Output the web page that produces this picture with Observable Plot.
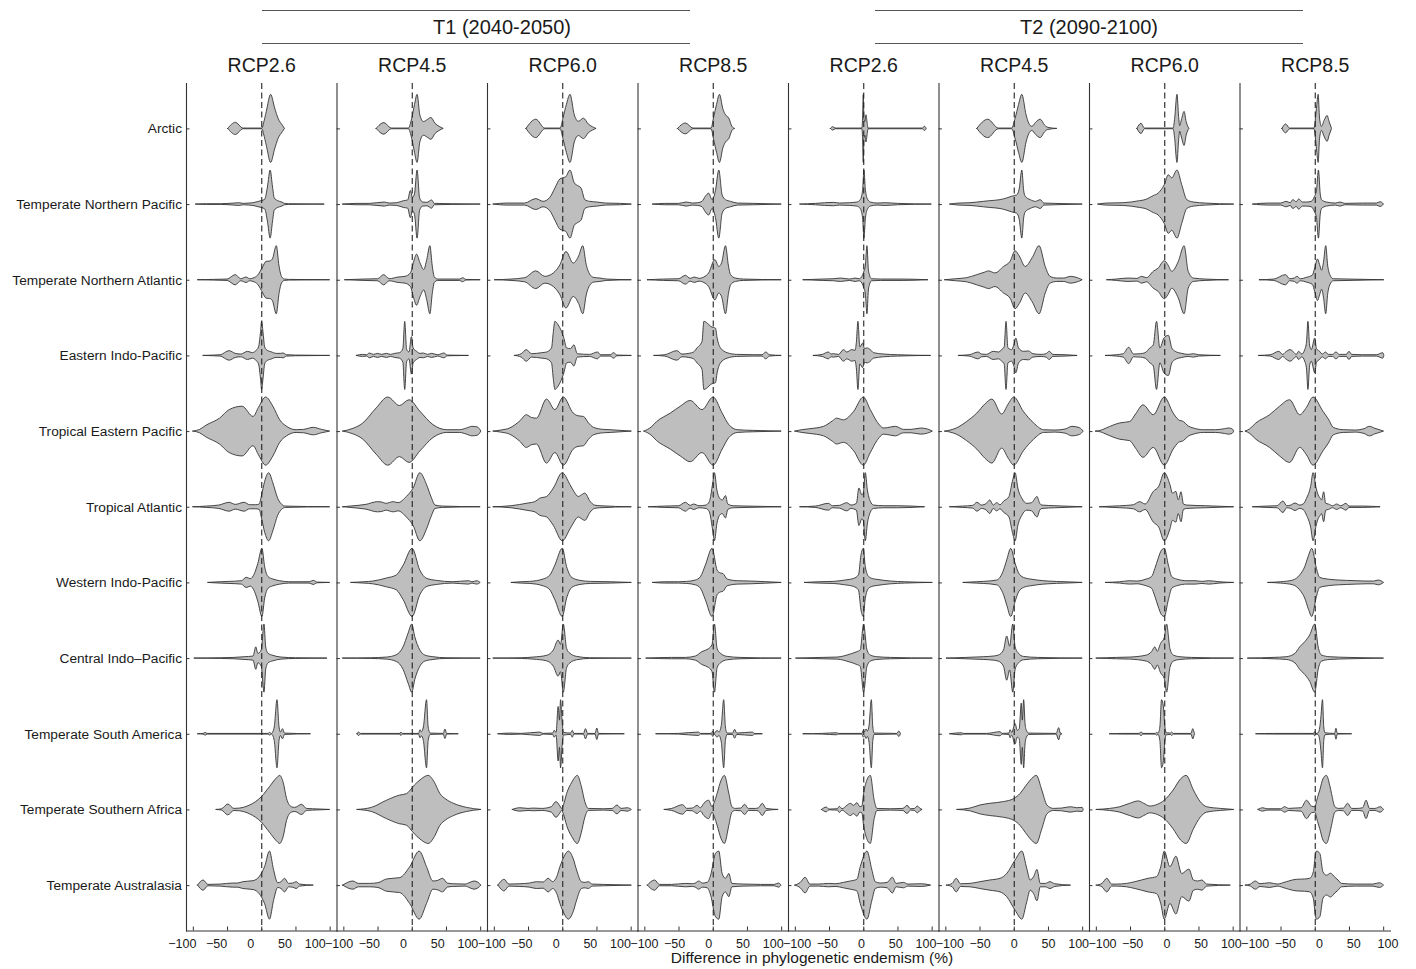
<!DOCTYPE html>
<html><head><meta charset="utf-8">
<script src="https://cdn.jsdelivr.net/npm/d3@7"></script>
<script src="https://cdn.jsdelivr.net/npm/@observablehq/plot@0.6"></script>
<style>
body{margin:0;background:#fff;font-family:"Liberation Sans",Arial,sans-serif;color:#1a1a1a}
#hdr{position:relative;height:45px;width:1416px}
.grp{position:absolute;top:10px;height:32px;border-top:1px solid #555;border-bottom:1px solid #555;line-height:32px;font-size:20px}
.grp span{position:absolute;top:0;transform:translateX(-50%);white-space:nowrap}
#xlab{position:relative;margin-top:-3px;left:512px;width:600px;text-align:center;font-size:15.5px;line-height:16px}
</style></head>
<body>
<div id="hdr"></div>
<div id="chart"></div>
<div id="xlab"></div>
<script>
const regions = ["Arctic","Temperate Northern Pacific","Temperate Northern Atlantic","Eastern Indo-Pacific","Tropical Eastern Pacific","Tropical Atlantic","Western Indo-Pacific","Central Indo\u2013Pacific","Temperate South America","Temperate Southern Africa","Temperate Australasia"];
const periods = ["T1 (2040-2050)","T2 (2090-2100)"];
const scenarios = ["RCP2.6","RCP4.5","RCP6.0","RCP8.5"];
const xTicks = [-100,-50,0,50,100];
const xTitle = "Difference in phylogenetic endemism (%)";

// violin outlines per panel: [value %, relative half-width (0-100)] for each region
const t1_rcp26 = [
 [[-49,0],[-37.7,18],[-27,1],[1,1],[3.4,16],[7.4,50],[13.7,100],[19.6,60],[24.5,30],[31,9],[34,0]],
 [[-96,0],[-80,1],[-60,1],[-40,3],[-33,4],[-26,2],[-18,3],[-12,4],[-6,7],[0,10],[5,14],[9,50],[13,100],[16.5,50],[19,18],[24,10],[30,6],[34,2],[40,1],[92,0]],
 [[-93,0],[-70,1],[-50,2],[-38,15],[-30,3],[-22,8],[-17,3],[-12,5],[-5,14],[2,38],[7,54],[12,55],[16,60],[22,100],[26,40],[30,8],[34,2],[40,1],[100,0]],
 [[-85,0],[-70,1],[-60,2],[-47,14],[-38,6],[-30,4],[-20,12],[-13,8],[-8,14],[-4,25],[-1,70],[0.5,100],[2.5,70],[5,25],[8,16],[14,11],[22,6],[28,6],[32,7],[37,2],[50,1],[100,0]],
 [[-100,0],[-90,5],[-81,17],[-61,38],[-47,63],[-28,73],[-12,43],[-4,70],[6.4,100],[17,73],[27,33],[37,14],[51,4],[62,5],[76,11],[88,5],[100,0]],
 [[-100,0],[-80,2],[-62,5],[-47,13],[-38,7],[-25,13],[-17,6],[-8,6],[-3,8],[0,30],[5,75],[10.8,100],[17,70],[24,25],[30,7],[35,2],[100,0]],
 [[-78,0],[-60,2],[-47,3],[-29,5],[-22,15],[-16,11],[-10,26],[-5,56],[1,100],[5,46],[10,17],[17,10],[27,5],[40,2],[70,2],[76,6],[82,1],[100,0]],
 [[-98,0],[-60,1],[-40,2],[-25,4],[-12,6],[-8,33],[-5,14],[0,24],[4,100],[6.5,33],[10,14],[17,8],[29,3],[50,1],[96,0]],
 [[-93,0],[-85,1],[-82,4],[-79,1],[10,1],[12,4],[15,1],[19,20],[23,100],[26,20],[28,5],[31,15],[34,2],[72,0]],
 [[-66,0],[-58,2],[-49,16],[-40,3],[-32,4],[-17,13],[0,37],[12,67],[22,92],[27,100],[32,80],[37,32],[44,8],[49,6],[59,15],[66,3],[75,2],[100,0]],
 [[-93,0],[-85,15],[-78,2],[-60,3],[-42,6],[-35,6],[-27,10],[-12,13],[-3,25],[5,55],[12,100],[18,45],[24,7],[29,10],[34,20],[40,5],[46,6],[51,10],[56,3],[76,0]]
];
const t1_rcp45 = [
 [[-52,0],[-40.7,17],[-30,1],[-5,1],[0,30],[4,70],[7.8,100],[11.8,40],[17,20],[22,25],[28,32],[34,15],[40,6],[46,0]],
 [[-101,0],[-80,2],[-62,2],[-40,6],[-33,3],[-22,4],[-12,10],[-6,12],[-2,40],[1,20],[4,30],[7.8,100],[11.5,18],[16,6],[22,5],[29,12],[33,2],[60,1],[100,0]],
 [[-98,0],[-70,2],[-50,3],[-41,15],[-33,3],[-20,8],[-10,10],[-2,20],[3,55],[7,75],[12,50],[17.6,30],[22,60],[26.5,100],[30,40],[33,8],[38,2],[70,2],[74.5,6],[79,1],[100,0]],
 [[-81,0],[-72,3],[-66,2],[-62,7],[-56,3],[-50,6],[-44,3],[-37,6],[-31,3],[-25,6],[-18,8],[-13,20],[-10.3,100],[-7.5,18],[-4,10],[-0.5,55],[2,22],[7,12],[12,6],[17,7],[23,3],[29,6],[38,2],[47,7],[52,1],[83,0]],
 [[-101,0],[-86,8],[-72,23],[-52,68],[-35,100],[-18,75],[-4,92],[12,58],[31,19],[51,4],[70,4],[80,9],[88,14],[96,12],[101,0]],
 [[-101,0],[-90,2],[-67,7],[-50,15],[-44,14],[-38,10],[-27,15],[-20,12],[-8,30],[2,55],[11.8,100],[21.6,65],[29,25],[34,5],[45,2],[100,0]],
 [[-89,0],[-70,2],[-57,4],[-37,13],[-22.5,22],[-12.7,50],[0.5,100],[11.8,36],[21.6,12],[36,6],[60,2],[83,5],[88,2],[95,5],[100,0]],
 [[-101,0],[-60,1],[-37,3],[-22.5,10],[-12.7,33],[-5.4,73],[0,100],[4.4,63],[11.8,24],[19,9],[31,4],[50,1],[100,0]],
 [[-80,0],[-78,5],[-75,1],[-17,1],[-16,5],[-14,1],[10,1],[12,12],[14,6],[17,20],[21.6,100],[24,20],[27,2],[46,1],[48.5,14],[51,1],[68,0]],
 [[-80,0],[-59,6],[-37,27],[-18,42],[-8,46],[4,72],[14,90],[24,100],[33,80],[41,47],[50,30],[61,18],[80,6],[101,0]],
 [[-101,0],[-86,12],[-78,5],[-62,5],[-49.5,7],[-37,18],[-17.6,22],[-3,54],[10.8,100],[21.6,54],[31,12],[38,14],[45,20],[52,6],[60,4],[78,3],[85,8],[91,12],[97,8],[101,0]]
];
const t1_rcp60 = [
 [[-53,0],[-38.7,27],[-25.5,1],[-3,1],[1,30],[6,70],[11.3,100],[17.6,40],[23.5,21],[31,30],[38,13],[44,5],[49.5,0]],
 [[-101,0],[-82,3],[-55,3],[-38.7,16],[-28,8],[-18,20],[-10.8,47],[-3.4,74],[0.5,77],[5,80],[11.3,100],[17.6,62],[22,55],[27.5,47],[33,13],[40,8],[50.5,6],[63,3],[85,2],[101,0]],
 [[-99,0],[-75,2],[-55,6],[-38.7,26],[-25.5,10],[-13,20],[-3.4,44],[5.4,83],[16,49],[24,70],[30,100],[35,45],[38,25],[45.6,7],[55,5],[65,2],[101,0]],
 [[-70,0],[-60,5],[-52.5,17],[-45,5],[-30,8],[-23,10],[-15.7,22],[-13,70],[-10.8,100],[-6,90],[-1,70],[2.5,50],[6.4,22],[12,20],[17,31],[22,5],[40,3],[51.5,10],[56,2],[70,2],[75,8],[80,1],[101,0]],
 [[-101,0],[-90,3],[-77,9],[-62,30],[-52.5,48],[-45,40],[-37.7,38],[-23,94],[-10.8,63],[1.5,100],[16,53],[23,45],[31,43],[38,25],[45.6,11],[60,5],[70,4],[101,0]],
 [[-101,0],[-75,3],[-50,11],[-40,15],[-33,25],[-23,30],[-13,55],[0,100],[11.3,65],[17,45],[23.5,30],[28,35],[33,40],[40.7,16],[47,5],[55,3],[101,0]],
 [[-74.5,0],[-60,2],[-47.5,3],[-28,10],[-18,22],[-10.8,51],[0,100],[6.4,46],[13.7,15],[26,6],[41,3],[70,2],[101,0]],
 [[-101,0],[-60,1],[-42.6,3],[-23,8],[-13,24],[-6,53],[-2.5,40],[1.5,100],[6.4,28],[11.3,14],[21,5],[40,1],[101,0]],
 [[-94,0],[-77,2],[-60,1],[-33,5],[-28,1],[-14,2],[-11.8,10],[-9,4],[-6,80],[-4,40],[-2.5,100],[0,30],[2,4],[12,2],[14.7,10],[17,1],[31,1],[34,15],[37,1],[48,1],[50.5,17],[53,1],[90.7,0]],
 [[-73,0],[-62,5],[-50,3],[-42.6,4],[-30,3],[-16,8],[-9.3,23],[-4,12],[-1,3],[2,15],[6.4,47],[14,80],[22,100],[28,67],[33,23],[38,3],[60,2],[73,3],[80,13],[86,3],[95,5],[101,0]],
 [[-94,0],[-85,17],[-78,3],[-62,4],[-48,6],[-37.7,10],[-28,9],[-20.6,20],[-14,10],[-8,25],[-3.4,54],[3,85],[8.8,100],[16,78],[21,44],[28,10],[33,8],[38,10],[44,3],[60,2],[101,0]]
];
const t1_rcp85 = [
 [[-51.5,0],[-40,16],[-29,1],[-2.5,1],[1.5,35],[5.5,70],[9.8,100],[14.7,58],[18.6,40],[23.5,30],[28,6],[32,0]],
 [[-88,0],[-70,2],[-50,2],[-38.7,6],[-30,3],[-22,4],[-15.7,8],[-10.8,23],[-6,32],[-1,13],[4,40],[8.8,100],[13.7,27],[18.6,13],[26,8],[36,3],[60,2],[100,0]],
 [[-95.6,0],[-72,2],[-50,3],[-40,13],[-33,4],[-27,8],[-20,4],[-13,8],[-6,20],[3,59],[8.8,39],[13,50],[18.6,100],[23,40],[26,15],[33,5],[45,2],[100,0]],
 [[-86,0],[-70,2],[-52.5,14],[-45,4],[-35,6],[-28,10],[-23,22],[-15.7,41],[-13,100],[-8,95],[-3,85],[1,82],[4,80],[6.4,51],[11.3,22],[21,8],[35,3],[60,2],[72,2],[77.5,10],[83,2],[100,0]],
 [[-100.5,0],[-90,12],[-82,28],[-62,53],[-47.5,73],[-33,90],[-15.7,63],[0.5,100],[13.7,53],[23.5,19],[36,4],[60,2],[100,0]],
 [[-94,0],[-70,2],[-50,3],[-40,13],[-33,4],[-28,8],[-20,3],[-10,5],[-5,15],[0,70],[2.5,100],[6,50],[10,25],[14,20],[18.6,33],[22,8],[30,3],[50,2],[100,0]],
 [[-88,0],[-70,2],[-50,2],[-38,3],[-25.5,7],[-18,17],[-10.8,51],[-1,100],[6.4,36],[11,28],[15,26],[21,10],[36,5],[55,4],[100,0]],
 [[-97.5,0],[-60,2],[-40,2],[-25.5,6],[-15.7,19],[-10.8,23],[-6,28],[-1,40],[2.5,100],[6.4,28],[11.3,14],[21,5],[40,2],[100,0]],
 [[-83,0],[-50,1],[-20.6,5],[-18,1],[-2,1],[0,8],[2,1],[6.4,10],[9,5],[12.5,25],[16,100],[18.5,20],[21,2],[29,2],[32,13],[35,2],[58,5],[61,1],[72.5,0]],
 [[-71,0],[-60,3],[-44,14],[-38,3],[-30,4],[-23,12],[-18,5],[-13,18],[-6,27],[-1,8],[2,20],[6.4,47],[12,85],[17,100],[23.5,47],[28,8],[33,3],[41,4],[46.6,15],[52,3],[62,3],[67,5],[72.5,18],[78,3],[95.6,0]],
 [[-95.6,0],[-85,15],[-78,2],[-60,2],[-40,5],[-30,4],[-25.5,6],[-20.6,12],[-15,6],[-8,8],[-3,30],[4,93],[8.8,100],[13.7,34],[18.6,20],[23.5,34],[28,5],[45.6,3],[70,2],[90,2],[96,6],[100,0]]
];
const t2_rcp26 = [
 [[-48,0],[-44.6,5],[-41,1],[-2,1],[-1,30],[0,100],[1,30],[2.5,20],[4,40],[5.5,20],[7,1],[86,1],[89.7,6],[92,0]],
 [[-92.6,0],[-70,2],[-43.6,5],[-35,3],[-20,4],[-9.3,6],[-4.4,13],[-1,40],[1,100],[3,45],[5.4,18],[10.3,6],[20,3],[32,4],[50,2],[99.5,0]],
 [[-88,0],[-60,2],[-43.6,3],[-33,5],[-20,2],[-12,5],[-6,3],[-2,10],[1,25],[3,40],[5.4,100],[7.5,30],[9,15],[12,3],[25,2],[57,2],[94.6,0]],
 [[-73,0],[-60,3],[-51,10],[-47,4],[-43.6,5],[-36,3],[-29,17],[-24,10],[-16.7,17],[-12,15],[-10,40],[-7.8,100],[-5,25],[-1,36],[2,20],[5.4,22],[10.3,17],[15,8],[30,4],[50,2],[98.5,0]],
 [[-100,0],[-90,4],[-78,7],[-58,14],[-45,30],[-39,38],[-29,33],[-14,58],[0,100],[10.3,63],[20,28],[30,9],[40,12],[47,14],[59,5],[70,5],[84,9],[94,6],[101,0]],
 [[-92.6,0],[-70,2],[-51,10],[-45,3],[-35,4],[-24,12],[-18,5],[-10,10],[-6.4,55],[-2,35],[0,40],[3,100],[6,50],[10.3,16],[15,5],[30,3],[50,3],[89.7,0]],
 [[-86,0],[-65,2],[-44,3],[-27,7],[-14,12],[-7,22],[-3.4,80],[0,100],[3,46],[8,17],[14,11],[20,9],[40,4],[60,2],[101,0]],
 [[-98.5,0],[-60,2],[-38.7,3],[-19,12],[-9.3,19],[-4.4,24],[0.5,100],[5.4,24],[10.3,9],[20,4],[40,2],[101,0]],
 [[-88,0],[-60,1],[-38.7,3],[-36,1],[-2,1],[0,10],[2,6],[4,14],[6,8],[8.5,25],[11.8,100],[14,20],[16,2],[49,1],[52,8],[54.4,0]],
 [[-61,0],[-54,7],[-50,1],[-38,2],[-35,9],[-31,2],[-24,12],[-19,18],[-14,12],[-9.3,20],[-5,8],[-2,10],[0.5,47],[5,85],[10.3,100],[16,27],[20,3],[40,2],[58,3],[64,12],[69,2],[75,3],[79,10],[83,3],[86,0]],
 [[-100,0],[-92,8],[-85,23],[-78,3],[-65,3],[-51,5],[-40,4],[-29,8],[-19,12],[-9.3,17],[-4.4,54],[5.4,100],[12.7,44],[17.6,10],[25,6],[35,8],[42.6,23],[48,5],[59,8],[65,3],[85,4],[98.5,0]]
];
const t2_rcp45 = [
 [[-54,0],[-38,27],[-22.5,1],[-3,1],[2,30],[7,70],[11.8,100],[18,40],[22,15],[26.5,6],[32,18],[38.7,27],[45,10],[50,3],[63,0]],
 [[-93.6,0],[-80,3],[-64,4],[-44.6,8],[-35,10],[-20,13],[-10.3,18],[-3,23],[4.4,27],[8,45],[11.8,100],[14.5,40],[16.7,23],[24,13],[32,8],[38.7,13],[44,3],[60,2],[100,0]],
 [[-101,0],[-85,3],[-69,6],[-54,15],[-43,22],[-37,26],[-27.5,20],[-15,39],[-5.4,54],[2,85],[8,70],[16.7,39],[27,65],[37,100],[46,39],[53,10],[63,5],[73,5],[83,10],[93,6],[100,0]],
 [[-81,0],[-65,2],[-52,10],[-47,4],[-40,3],[-30,12],[-22.5,10],[-17.6,17],[-14,25],[-11.3,100],[-8.5,22],[-3,17],[0,30],[3,51],[7,22],[14,12],[21.6,13],[28,5],[40,3],[47,5],[52,12],[57,3],[75,2],[92.6,0]],
 [[-101,0],[-93,3],[-84,9],[-69,28],[-54,53],[-42,80],[-32,94],[-17.6,50],[-8,80],[0,100],[14,58],[29,24],[43.6,4],[60,3],[75,6],[85,14],[96,10],[101.5,0]],
 [[-93.6,0],[-75,2],[-60,4],[-54,13],[-47,5],[-40,10],[-35,20],[-30,5],[-25,12],[-20,6],[-15,16],[-7,30],[-2,75],[2,100],[6,55],[11.8,25],[19,10],[26,12],[34,30],[38,10],[41,5],[60,3],[100,0]],
 [[-74,0],[-55,2],[-44.6,3],[-25,7],[-15,36],[-10.3,66],[-4.4,100],[2,56],[7,28],[14,15],[24,10],[34,7],[50,4],[75,2],[100,0]],
 [[-98.5,0],[-70,2],[-44.6,4],[-30,6],[-22.5,9],[-15,24],[-10.3,65],[-6,35],[-1.5,100],[2,33],[7,14],[14,5],[35,2],[100,0]],
 [[-93.6,0],[-76.5,3],[-74,1],[-40,1],[-20,6],[-17,1],[-7,2],[-5.4,12],[-3,4],[2,30],[5,10],[8,15],[11,90],[12.5,40],[14.5,100],[16.5,30],[18.5,10],[22,2],[62,1],[65.7,18],[68,2],[70.6,0]],
 [[-83,0],[-64,4],[-49.5,13],[-35,18],[-15,23],[0,32],[9.3,47],[16.7,67],[24,86],[33,100],[41,57],[48.5,13],[58,3],[70,4],[83,8],[92,5],[100,6],[101.5,0]],
 [[-98.5,0],[-90,5],[-84,20],[-78,4],[-64,5],[-49.5,10],[-35,15],[-20,20],[-10.3,34],[2,74],[11.8,100],[19,49],[24,15],[29,25],[34,46],[38.7,5],[46,5],[53,10],[60,4],[83,0]]
];
const t2_rcp60 = [
 [[-40,0],[-34,15],[-29,1],[13,1],[15,25],[18.6,100],[21,35],[22.5,8],[25,25],[29,50],[32,20],[36,0]],
 [[-97,0],[-85,3],[-60,4],[-36,10],[-28,13],[-16,25],[-9,32],[0,57],[6,86],[11,77],[18.6,100],[25.5,57],[33,13],[42.6,6],[60,3],[101.5,0]],
 [[-84,0],[-70,2],[-53,5],[-40,4],[-33,10],[-26,6],[-16,25],[-9,34],[0,56],[5,45],[11,25],[20.6,54],[29,100],[35,25],[42.6,5],[60,2],[94,0]],
 [[-86,0],[-70,2],[-60,5],[-52,24],[-45,4],[-35,5],[-28,8],[-21,22],[-16,31],[-11.3,100],[-6.4,22],[-0.5,51],[6,59],[11,22],[16,12],[25.5,6],[35,3],[42.6,5],[50,2],[82,0]],
 [[-100.5,0],[-92,3],[-85,9],[-65,24],[-50.5,28],[-42,50],[-31,77],[-16,48],[0,100],[13,53],[21,33],[28,28],[35,15],[42.6,9],[57,4],[75,4],[88,7],[94,9],[99,7],[101.5,0]],
 [[-94.6,0],[-75,2],[-55,4],[-45,6],[-36,15],[-28,8],[-16,45],[-8,60],[0,100],[8.3,65],[12,40],[17,45],[20.5,20],[24.5,44],[28,8],[33,5],[60,3],[101.5,0]],
 [[-86,0],[-65,2],[-50.5,5],[-40,4],[-28,9],[-18.6,17],[-13.7,41],[-9,70],[-4,95],[0,100],[6,51],[11,17],[18,10],[33,5],[45,5],[55,3],[65,5],[80,2],[101.5,0]],
 [[-99.5,0],[-70,2],[-50.5,3],[-26,9],[-18.6,19],[-13.7,33],[-10.3,20],[-5.4,43],[0,60],[3.4,100],[8.3,28],[13.2,9],[23,4],[40,2],[101.5,0]],
 [[-80,0],[-60,1],[-36.5,1],[-34,6],[-31.5,1],[-13,1],[-11.3,4],[-9,2],[-6.4,20],[-4,100],[-1.5,84],[1,20],[3,3],[9,2],[10.8,5],[13,1],[39,1],[41.7,15],[44,2],[45,0]],
 [[-99.5,0],[-80,3],[-65,8],[-50.5,18],[-38,25],[-30,18],[-21,10],[-10,15],[0,27],[13,57],[24,90],[32,100],[42.6,57],[52.5,23],[62,8],[82,3],[101.5,0]],
 [[-99.5,0],[-91,5],[-84,20],[-77,3],[-70,3],[-55,5],[-43,10],[-23.5,20],[-11.3,25],[-5,55],[0,100],[8.3,54],[17,85],[25.5,34],[36,47],[42.6,15],[49,12],[55,15],[62,3],[96.5,0]]
];
const t2_rcp85 = [
 [[-48,0],[-42.6,13],[-36.8,1],[-1,1],[0.5,20],[3,70],[5,100],[7,30],[9.8,6],[14,25],[18,38],[21,20],[24.5,0]],
 [[-90.7,0],[-80,2],[-68,3],[-50,3],[-41.7,8],[-36,4],[-32,13],[-27,7],[-23.5,15],[-18,6],[-12,6],[-5,8],[-1,20],[2.5,40],[5.4,100],[8,30],[9.8,13],[17,6],[30,3],[37,6],[44,2],[70,3],[90,3],[95.6,7],[100.5,0]],
 [[-81,0],[-60,2],[-42.6,15],[-37,3],[-30,5],[-26,10],[-21,3],[-12,7],[-3.4,14],[0,35],[4,61],[7,45],[10,28],[13,55],[16,100],[19,40],[22,15],[27,3],[50,2],[101,0]],
 [[-82,0],[-65,2],[-52.5,12],[-47,3],[-42.6,10],[-36,17],[-31,10],[-27,3],[-23.5,12],[-19,4],[-14.7,17],[-12,40],[-10,100],[-7.5,30],[-5,17],[0,51],[2.5,20],[7,12],[11,4],[15.7,10],[20,3],[26,3],[31,10],[36,3],[46,3],[50,12],[54,3],[70,2],[90,2],[99.5,8],[101,0]],
 [[-101.5,0],[-95,7],[-86,24],[-66,48],[-51.5,73],[-36.8,92],[-22,48],[-12,70],[-2.5,100],[12,58],[20,35],[27,11],[41.7,4],[60,3],[72,7],[80,14],[88,8],[96,3],[100.5,0]],
 [[-90.7,0],[-70,2],[-55,3],[-46.5,17],[-41,3],[-35,5],[-29,11],[-22,5],[-17,8],[-12,25],[-6,60],[-2.5,100],[2,55],[5,35],[8,25],[10,20],[13,44],[16,10],[20,8],[26,3],[32,8],[38,3],[45.6,10],[50,2],[70,2],[95.6,0]],
 [[-68.6,0],[-50,2],[-32,7],[-22,22],[-14.7,46],[-9,80],[-4.4,100],[2.5,41],[7,15],[15,11],[22,9],[35,7],[46.6,6],[60,5],[75,4],[86,4],[93,7],[100.5,0]],
 [[-98,0],[-61,2],[-41.7,4],[-29,14],[-22,33],[-14.7,48],[-7.4,68],[0,100],[5,33],[9.8,9],[22,4],[50,2],[100.5,0]],
 [[-86,0],[-60,1],[-20,1],[-2,1],[0,6],[2,1],[5,3],[7.4,20],[9,50],[11.3,100],[13.2,20],[15,3],[29,1],[31,16],[33,1],[54,0]],
 [[-83,0],[-76,5],[-70,2],[-50,2],[-44,8],[-38,3],[-30,4],[-20,5],[-12,27],[-5,10],[0,8],[4,35],[7.4,57],[12,90],[17,100],[22,70],[24.5,47],[29.4,8],[35,3],[42,4],[48,18],[54,3],[62,3],[70,5],[75,27],[80,3],[88,3],[95.6,8],[100.5,0]],
 [[-101.5,0],[-94,3],[-86.8,12],[-80,4],[-66,7],[-55,3],[-41.7,10],[-27,17],[-15,18],[-7.4,20],[-2,40],[1,90],[2.5,100],[7.4,93],[12,39],[17,29],[23,35],[29.4,23],[34,15],[39,5],[60,3],[85,3],[94.6,7],[100.5,0]]
];

const panelData = [t1_rcp26, t1_rcp45, t1_rcp60, t1_rcp85, t2_rcp26, t2_rcp45, t2_rcp60, t2_rcp85];
const panelKeys = panelData.map((_, i) => `T${i < 4 ? 1 : 2} ${scenarios[i % 4]}`);

const table = [];
panelData.forEach((profiles, p) => profiles.forEach((prof, r) => prof.forEach(([v, w]) =>
  table.push({panel: panelKeys[p], region: regions[r], row: r, v, w: w / 100}))));

const fmt = d3.format("d");
const minus = t => (t < 0 ? "\u2212" + fmt(-t) : fmt(t));
// tick labels: one text mark per panel & tick, nudged as in the reference layout
const tickLabelMarks = [];
panelKeys.forEach((key, p) => xTicks.forEach(t => {
  let dx = -11 + 2.19 * p;
  if (t === 100 && p < 7) dx -= 4;
  if (t === -100 && p > 0) dx += 4;
  tickLabelMarks.push(Plot.text([t], {x: d => d, fx: () => key, frameAnchor: "bottom", dy: 8,
    lineAnchor: "top", dx, text: minus, fontSize: 12.5, fill: "#1a1a1a"}));
}));

const HALF = 0.45;
const chart = Plot.plot({
  width: 1416, height: 908,
  marginLeft: 186, marginRight: 26, marginTop: 38, marginBottom: 22.5,
  style: {fontFamily: "Liberation Sans, Arial, sans-serif", color: "#1a1a1a", background: "white"},
  fx: {domain: panelKeys, padding: 0, round: false, label: null},
  x: {domain: [-110, 110], label: null},
  y: {domain: [10.6, -0.6], label: null},
  marks: [
    Plot.areaY(table, {fx: "panel", x: "v", y1: d => d.row - HALF * d.w, y2: d => d.row + HALF * d.w,
      z: "region", curve: "monotone-x", fill: "#bebebe", stroke: "#333", strokeWidth: 0.9}),
    Plot.ruleX([0], {stroke: "#222", strokeWidth: 1.1, strokeDasharray: "6,3.5"}),
    Plot.frame({anchor: "left", stroke: "#333", strokeWidth: 1.1}),
    Plot.frame({anchor: "bottom", stroke: "#333", strokeWidth: 1.1}),
    Plot.ruleY(d3.range(regions.length), {x1: -110, x2: -105, stroke: "#333"}),
    Plot.axisX({ticks: xTicks, tickSize: -4, fill: "none", stroke: "#333", label: null}),
    ...tickLabelMarks,
    Plot.axisY({ticks: d3.range(regions.length), tickFormat: i => regions[i], tickSize: 0, tickPadding: 4.5, fontSize: 13.7, label: null}),
    Plot.axisFx({anchor: "top", tickSize: 0, tickPadding: 12, fontSize: 19.5, tickFormat: k => k.split(" ")[1], label: null})
  ]
});
document.getElementById("chart").append(chart);

const hdr = document.getElementById("hdr");
[[262, periods[0], 240], [875, periods[1], 214]].forEach(([left, txt, c]) => {
  const d = document.createElement("div");
  d.className = "grp"; d.style.left = left + "px"; d.style.width = "428px";
  const s = document.createElement("span"); s.style.left = c + "px"; s.textContent = txt;
  d.append(s); hdr.append(d);
});
document.getElementById("xlab").textContent = xTitle;
</script>
</body></html>
